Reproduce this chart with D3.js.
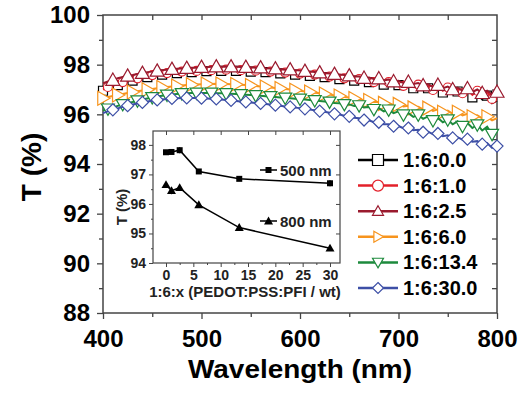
<!DOCTYPE html>
<html>
<head>
<meta charset="utf-8">
<script src="https://cdn.jsdelivr.net/npm/d3@7"></script>
<style>
  body { margin: 0; background: #fff; }
  svg { display: block; font-family: Arial, "Liberation Sans", sans-serif; font-weight: bold; }
</style>
</head>
<body>
<svg id="chart" width="529" height="396"></svg>
<script>
// wavelength grid, 5 nm steps
const wavelengths = d3.range(400, 801, 5);

const seriesLabels = ['1:6:0.0', '1:6:1.0', '1:6:2.5', '1:6:6.0', '1:6:13.4', '1:6:30.0'];

const t_0_0 = [96.95, 97.05, 97.12, 97.18, 97.25, 97.30, 97.36, 97.40, 97.46, 97.50,
  97.53, 97.57, 97.60, 97.62, 97.65, 97.66, 97.68, 97.70, 97.70, 97.72,
  97.72, 97.74, 97.74, 97.75, 97.75, 97.76, 97.75, 97.75, 97.74, 97.74,
  97.72, 97.72, 97.70, 97.70, 97.68, 97.66, 97.65, 97.64, 97.62, 97.60,
  97.58, 97.57, 97.55, 97.52, 97.50, 97.50, 97.46, 97.45, 97.42, 97.40,
  97.38, 97.36, 97.34, 97.30, 97.30, 97.25, 97.26, 97.20, 97.22, 97.15,
  97.18, 97.10, 97.14, 97.05, 97.10, 97.00, 97.05, 96.95, 97.02, 96.88,
  96.98, 96.82, 96.92, 96.75, 96.88, 96.68, 96.82, 96.60, 96.75, 96.45, 96.55];

const t_1_0 = [97.00, 97.10, 97.15, 97.22, 97.30, 97.35, 97.40, 97.45, 97.50, 97.55,
  97.58, 97.62, 97.65, 97.66, 97.70, 97.72, 97.72, 97.75, 97.76, 97.75,
  97.78, 97.80, 97.78, 97.80, 97.82, 97.80, 97.80, 97.81, 97.78, 97.80,
  97.77, 97.76, 97.75, 97.74, 97.72, 97.73, 97.70, 97.68, 97.68, 97.65,
  97.64, 97.62, 97.60, 97.60, 97.56, 97.55, 97.52, 97.50, 97.50, 97.45,
  97.46, 97.40, 97.42, 97.35, 97.38, 97.30, 97.33, 97.25, 97.30, 97.20,
  97.26, 97.15, 97.22, 97.10, 97.20, 97.05, 97.15, 96.98, 97.12, 96.95,
  97.08, 96.88, 97.05, 96.85, 97.00, 96.78, 96.95, 96.70, 96.90, 96.62, 96.80];

const t_2_5 = [97.25, 97.32, 97.38, 97.45, 97.50, 97.55, 97.58, 97.62, 97.66, 97.70,
  97.72, 97.75, 97.78, 97.80, 97.82, 97.84, 97.85, 97.86, 97.88, 97.88,
  97.90, 97.90, 97.92, 97.92, 97.92, 97.93, 97.92, 97.92, 97.91, 97.90,
  97.90, 97.88, 97.88, 97.86, 97.85, 97.84, 97.82, 97.80, 97.80, 97.78,
  97.76, 97.74, 97.72, 97.70, 97.68, 97.66, 97.64, 97.62, 97.60, 97.58,
  97.56, 97.52, 97.52, 97.46, 97.48, 97.42, 97.44, 97.36, 97.40, 97.32,
  97.35, 97.26, 97.30, 97.22, 97.26, 97.16, 97.22, 97.10, 97.18, 97.05,
  97.12, 97.00, 97.08, 96.95, 97.04, 96.90, 97.00, 96.85, 96.95, 96.80, 96.90];

const t_6_0 = [96.65, 96.70, 96.74, 96.78, 96.82, 96.86, 96.90, 96.93, 96.96, 96.99,
  97.02, 97.05, 97.08, 97.10, 97.12, 97.14, 97.16, 97.18, 97.19, 97.20,
  97.21, 97.22, 97.22, 97.23, 97.22, 97.22, 97.21, 97.20, 97.19, 97.18,
  97.16, 97.14, 97.12, 97.10, 97.08, 97.06, 97.04, 97.02, 97.00, 96.97,
  96.95, 96.92, 96.90, 96.87, 96.85, 96.82, 96.80, 96.76, 96.74, 96.70,
  96.68, 96.64, 96.62, 96.57, 96.56, 96.50, 96.50, 96.44, 96.45, 96.38,
  96.40, 96.32, 96.35, 96.26, 96.30, 96.20, 96.25, 96.14, 96.20, 96.08,
  96.15, 96.02, 96.08, 95.96, 96.02, 95.90, 95.96, 95.84, 95.90, 95.76, 95.85];

const t_13_4 = [96.15, 96.22, 96.28, 96.34, 96.40, 96.46, 96.50, 96.55, 96.60, 96.64,
  96.68, 96.72, 96.75, 96.78, 96.80, 96.82, 96.84, 96.85, 96.86, 96.86,
  96.86, 96.86, 96.86, 96.85, 96.85, 96.84, 96.83, 96.82, 96.80, 96.79,
  96.78, 96.76, 96.75, 96.73, 96.72, 96.70, 96.68, 96.66, 96.65, 96.63,
  96.62, 96.60, 96.58, 96.56, 96.54, 96.52, 96.50, 96.46, 96.45, 96.40,
  96.40, 96.34, 96.35, 96.28, 96.30, 96.20, 96.25, 96.12, 96.18, 96.05,
  96.12, 95.98, 96.05, 95.90, 95.98, 95.82, 95.92, 95.75, 95.85, 95.68,
  95.78, 95.60, 95.72, 95.52, 95.65, 95.45, 95.58, 95.35, 95.50, 95.20, 95.30];

const t_30_0 = [96.05, 96.12, 96.18, 96.24, 96.30, 96.35, 96.40, 96.44, 96.48, 96.52,
  96.55, 96.58, 96.60, 96.62, 96.64, 96.65, 96.66, 96.66, 96.66, 96.66,
  96.65, 96.64, 96.63, 96.62, 96.60, 96.58, 96.56, 96.54, 96.52, 96.50,
  96.48, 96.46, 96.44, 96.42, 96.40, 96.37, 96.35, 96.32, 96.30, 96.27,
  96.25, 96.22, 96.19, 96.16, 96.13, 96.10, 96.06, 96.02, 95.99, 95.94,
  95.92, 95.86, 95.84, 95.77, 95.76, 95.68, 95.68, 95.60, 95.60, 95.52,
  95.53, 95.44, 95.45, 95.36, 95.38, 95.28, 95.30, 95.20, 95.23, 95.12,
  95.16, 95.05, 95.08, 94.98, 95.00, 94.90, 94.92, 94.80, 94.84, 94.65, 94.72];

// inset: T vs PFI ratio
const insetRatio = [0, 1, 2.5, 6, 13.4, 30];
const insetT500 = [97.75, 97.76, 97.82, 97.10, 96.85, 96.70];
const insetErr500 = [0.02, 0.02, 0.10, 0.03, 0.04, 0.10];
const insetT800 = [96.65, 96.45, 96.55, 95.97, 95.20, 94.50];
const insetErr800 = [0.05, 0.12, 0.06, 0.05, 0.10, 0.06];

const COLORS = ['#000000', '#e3202a', '#9a1a2e', '#f7941d', '#1d8a3c', '#3d4fa6'];
const MARKERS = ['square', 'circle', 'triUp', 'triRight', 'triDown', 'diamond'];
const MARKER_R = [4.5, 4.5, 7, 7, 6.5, 6];
const AXIS_COLOR = '#444';
const FONT = 'Arial, Liberation Sans, sans-serif';

const seriesValues = [t_0_0, t_1_0, t_2_5, t_6_0, t_13_4, t_30_0];

const markerPath = (type, r) => {
  switch (type) {
    case 'square': return `M${-r},${-r}H${r}V${r}H${-r}Z`;
    case 'circle': return `M${r},0A${r},${r} 0 1,1 ${-r},0A${r},${r} 0 1,1 ${r},0Z`;
    case 'triUp': return `M0,${-r}L${r},${r * 0.75}L${-r},${r * 0.75}Z`;
    case 'triDown': return `M0,${r}L${r},${-r * 0.75}L${-r},${-r * 0.75}Z`;
    case 'triRight': return `M${r},0L${-r * 0.75},${r}L${-r * 0.75},${-r}Z`;
    case 'diamond': return `M0,${-r}L${r},0L0,${r}L${-r},0Z`;
  }
};

const svg = d3.select('#chart');

// ---- main plot ----
const x = d3.scaleLinear([400, 800], [103, 497]);
const y = d3.scaleLinear([88, 100], [313, 15]);

const styleAxis = (g) => {
  g.select('.domain').remove();
  g.selectAll('line').attr('stroke', AXIS_COLOR).attr('stroke-width', 1.3);
  g.selectAll('text').attr('font-size', 24).attr('font-weight', 'bold').attr('fill', '#000').attr('font-family', FONT);
};

svg.append('g')
  .attr('transform', 'translate(0,313)')
  .call(d3.axisBottom(x).tickValues(d3.range(400, 801, 100)).tickSize(6).tickPadding(11).tickSizeOuter(0))
  .call(styleAxis);
svg.append('g')
  .attr('transform', 'translate(0,313)')
  .call(d3.axisBottom(x).tickValues(d3.range(450, 800, 100)).tickSize(4).tickFormat(''))
  .call(styleAxis);
svg.append('g')
  .attr('transform', 'translate(103,0)')
  .call(d3.axisLeft(y).tickValues(d3.range(88, 101, 2)).tickSize(6).tickPadding(7))
  .call(styleAxis);
svg.append('g')
  .attr('transform', 'translate(103,0)')
  .call(d3.axisLeft(y).tickValues(d3.range(89, 100, 2)).tickSize(4).tickFormat(''))
  .call(styleAxis);
svg.append('g')
  .attr('transform', 'translate(0,15)')
  .call(d3.axisTop(x).tickValues(d3.range(450, 800, 50)).tickSize(-5).tickFormat(''))
  .call(styleAxis);
svg.append('g')
  .attr('transform', 'translate(497,0)')
  .call(d3.axisRight(y).tickValues(d3.range(89, 100, 1)).tickSize(-5).tickFormat(''))
  .call(styleAxis);

svg.append('rect')
  .attr('x', 103).attr('y', 15).attr('width', 394).attr('height', 298)
  .attr('fill', 'none').attr('stroke', AXIS_COLOR).attr('stroke-width', 1.5);

// spectra
const line = d3.line().x((d, i) => x(wavelengths[i])).y(d => y(d));
const spectra = svg.append('g').attr('id', 'spectra');
seriesValues.forEach((vals, k) => {
  const g = spectra.append('g');
  g.append('path')
    .attr('d', line(vals))
    .attr('fill', 'none')
    .attr('stroke', COLORS[k])
    .attr('stroke-width', 2);
  g.selectAll('path.m')
    .data(vals.map((v, i) => ({ v, i })).filter(d => d.i % 3 === k % 3))
    .join('path')
    .attr('class', 'm')
    .attr('transform', d => `translate(${x(wavelengths[d.i])},${y(d.v)})`)
    .attr('d', markerPath(MARKERS[k], MARKER_R[k]))
    .attr('fill', '#fff')
    .attr('stroke', COLORS[k])
    .attr('stroke-width', 1.2);
});

// axis titles
svg.append('text')
  .attr('x', 300).attr('y', 378)
  .attr('text-anchor', 'middle')
  .attr('font-size', 25)
  .attr('textLength', 224).attr('lengthAdjust', 'spacingAndGlyphs')
  .text('Wavelength (nm)');
svg.append('text')
  .attr('transform', 'translate(41,167) rotate(-90)')
  .attr('text-anchor', 'middle')
  .attr('font-size', 28)
  .text('T (%)');

// legend
const legend = svg.append('g').attr('id', 'legend');
seriesLabels.forEach((label, k) => {
  const ly = 160 + k * 25.6;
  legend.append('line')
    .attr('x1', 358).attr('x2', 398).attr('y1', ly).attr('y2', ly)
    .attr('stroke', COLORS[k]).attr('stroke-width', 2.5);
  legend.append('path')
    .attr('transform', `translate(378,${ly})`)
    .attr('d', markerPath(MARKERS[k], 5.5))
    .attr('fill', '#fff').attr('stroke', COLORS[k]).attr('stroke-width', 1.2);
  legend.append('text')
    .attr('x', 403).attr('y', ly + 7)
    .attr('font-size', 20)
    .text(label);
});

// ---- inset ----
const xi = d3.scaleLinear([-2.38, 31.83], [153, 340]);
const yi = d3.scaleLinear([94, 98.47], [263, 131]);
const inset = svg.append('g').attr('id', 'inset');

inset.append('rect')
  .attr('x', 153).attr('y', 131).attr('width', 187).attr('height', 132)
  .attr('fill', '#fff').attr('stroke', AXIS_COLOR).attr('stroke-width', 1.2);

const styleInset = (g) => {
  g.select('.domain').remove();
  g.selectAll('line').attr('stroke', AXIS_COLOR).attr('stroke-width', 1);
  g.selectAll('text').attr('font-size', 14).attr('font-weight', 'bold').attr('fill', '#222').attr('font-family', FONT);
};
inset.append('g').attr('transform', 'translate(0,263)')
  .call(d3.axisBottom(xi).tickValues(d3.range(0, 31, 5)).tickSize(4).tickPadding(3))
  .call(styleInset);
inset.append('g').attr('transform', 'translate(0,263)')
  .call(d3.axisBottom(xi).tickValues(d3.range(2.5, 31, 5)).tickSize(2).tickFormat(''))
  .call(styleInset);
inset.append('g').attr('transform', 'translate(153,0)')
  .call(d3.axisLeft(yi).tickValues(d3.range(94, 98.1, 1)).tickSize(4).tickPadding(3).tickFormat(d3.format('d')))
  .call(styleInset);
inset.append('g').attr('transform', 'translate(153,0)')
  .call(d3.axisLeft(yi).tickValues(d3.range(94.5, 98.1, 1)).tickSize(2).tickFormat(''))
  .call(styleInset);
inset.append('g').attr('transform', 'translate(0,131)')
  .call(d3.axisTop(xi).tickValues(d3.range(0, 31, 5)).tickSize(-4).tickFormat(''))
  .call(styleInset);
inset.append('g').attr('transform', 'translate(340,0)')
  .call(d3.axisRight(yi).tickValues(d3.range(95, 98.1, 1)).tickSize(-4).tickFormat(''))
  .call(styleInset);

const insetLine = d3.line().x((d, i) => xi(insetRatio[i])).y(d => yi(d));
[[insetT500, insetErr500, 'square'], [insetT800, insetErr800, 'triUp']].forEach(([vals, errs, m]) => {
  inset.append('path')
    .attr('d', insetLine(vals))
    .attr('fill', 'none').attr('stroke', '#000').attr('stroke-width', 1.5);
  inset.selectAll(null)
    .data(vals.map((v, i) => ({ v, e: errs[i], r: insetRatio[i] })))
    .join('line')
    .attr('x1', d => xi(d.r)).attr('x2', d => xi(d.r))
    .attr('y1', d => yi(d.v - d.e)).attr('y2', d => yi(d.v + d.e))
    .attr('stroke', '#000').attr('stroke-width', 1.2);
  inset.selectAll(null)
    .data(vals.map((v, i) => ({ v, r: insetRatio[i] })))
    .join('path')
    .attr('transform', d => `translate(${xi(d.r)},${yi(d.v)})`)
    .attr('d', markerPath(m, m === 'square' ? 3 : 4.5))
    .attr('fill', '#000');
});

// inset labels for the two wavelengths
[['500 nm', 170, 'square'], ['800 nm', 221, 'triUp']].forEach(([label, ly, m]) => {
  inset.append('line')
    .attr('x1', 260).attr('x2', 277).attr('y1', ly).attr('y2', ly)
    .attr('stroke', '#000').attr('stroke-width', 1.5);
  inset.append('path')
    .attr('transform', `translate(268.5,${ly})`)
    .attr('d', markerPath(m, m === 'square' ? 3 : 4.5))
    .attr('fill', '#000');
  inset.append('text')
    .attr('x', 280).attr('y', ly + 5.5)
    .attr('font-size', 15).attr('fill', '#222')
    .text(label);
});

inset.append('text')
  .attr('x', 245).attr('y', 297)
  .attr('text-anchor', 'middle')
  .attr('font-size', 15).attr('fill', '#222')
  .text('1:6:x (PEDOT:PSS:PFI / wt)');
inset.append('text')
  .attr('transform', 'translate(127,207) rotate(-90)')
  .attr('text-anchor', 'middle')
  .attr('font-size', 15).attr('fill', '#222')
  .text('T (%)');
</script>
</body>
</html>
